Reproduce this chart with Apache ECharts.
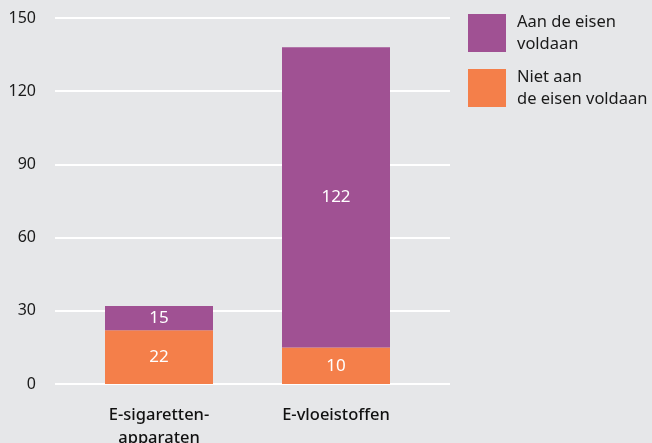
<!DOCTYPE html>
<html>
<head>
<meta charset="utf-8">
<script src="https://cdn.jsdelivr.net/npm/echarts@6/dist/echarts.min.js"></script>
<style>
  html, body { margin: 0; padding: 0; background: #E6E7E9; }
  #chart { width: 652px; height: 443px; }
</style>
</head>
<body>
<div id="chart"></div>
<script>
// Data
const categories = ['E-sigaretten-\napparaten', 'E-vloeistoffen'];
const seriesNames = ['Niet aan\nde eisen voldaan', 'Aan de eisen\nvoldaan'];
// bar segment heights as drawn
const notCompliant = [22, 15];
const compliant = [10, 123];
// printed labels as shown in the reference
const notCompliantLabels = ['22', '10'];
const compliantLabels = ['15', '122'];
const yTicks = [0, 30, 60, 90, 120, 150];

const FONT = 'Noto Sans';
const chart = echarts.init(document.getElementById('chart'), null, { renderer: 'canvas' });

const yMin = yTicks[0], yMax = yTicks[yTicks.length - 1], yStep = yTicks[1] - yTicks[0];

chart.setOption({
  backgroundColor: '#E6E7E9',
  animation: false,
  textStyle: { fontFamily: FONT },
  legend: {
    data: [seriesNames[1], seriesNames[0]],
    orient: 'vertical',
    left: 468,
    top: 11,
    padding: 0,
    itemWidth: 38,
    itemHeight: 38,
    itemGap: 11,
    icon: 'rect',
    textStyle: { fontFamily: FONT, fontSize: 16.5, color: '#1a1a1a', lineHeight: 22, padding: [0, 0, 0, 6] }
  },
  grid: [
    { left: 55, right: 202, top: 18, bottom: 59, outerBoundsMode: 'none', containLabel: false },
    { left: 70.5, right: 227.5, top: 18, bottom: 59, outerBoundsMode: 'none', containLabel: false }
  ],
  xAxis: [
    { type: 'category', gridIndex: 0, data: categories, show: false },
    {
      type: 'category', gridIndex: 1, data: categories,
      axisLine: { show: false }, axisTick: { show: false },
      axisLabel: { margin: 20, fontFamily: FONT, fontSize: 16.5, fontWeight: 500, color: '#111', lineHeight: 23 }
    }
  ],
  yAxis: [
    {
      type: 'value', gridIndex: 0, min: yMin, max: yMax, interval: yStep,
      axisLine: { show: false }, axisTick: { show: false },
      axisLabel: { margin: 19, fontFamily: FONT, fontSize: 16, color: '#1a1a1a', verticalAlign: 'middle', padding: [4, 0, 0, 0] },
      splitLine: { lineStyle: { color: '#ffffff', width: 2 } }
    },
    {
      type: 'value', gridIndex: 1, min: yMin, max: yMax, interval: yStep, show: false,
      splitLine: { show: false }
    }
  ],
  series: [
    {
      name: seriesNames[0], type: 'bar', stack: 'total', xAxisIndex: 1, yAxisIndex: 1,
      data: notCompliant, barWidth: 108,
      itemStyle: { color: '#F47F4A' },
      label: { show: true, position: 'inside', color: '#fff', fontFamily: FONT, fontSize: 17,
        formatter: p => notCompliantLabels[p.dataIndex] }
    },
    {
      name: seriesNames[1], type: 'bar', stack: 'total', xAxisIndex: 1, yAxisIndex: 1,
      data: compliant, barWidth: 108,
      itemStyle: { color: '#A05193' },
      label: { show: true, position: 'inside', color: '#fff', fontFamily: FONT, fontSize: 17,
        formatter: p => compliantLabels[p.dataIndex] }
    }
  ]
});
</script>
</body>
</html>
